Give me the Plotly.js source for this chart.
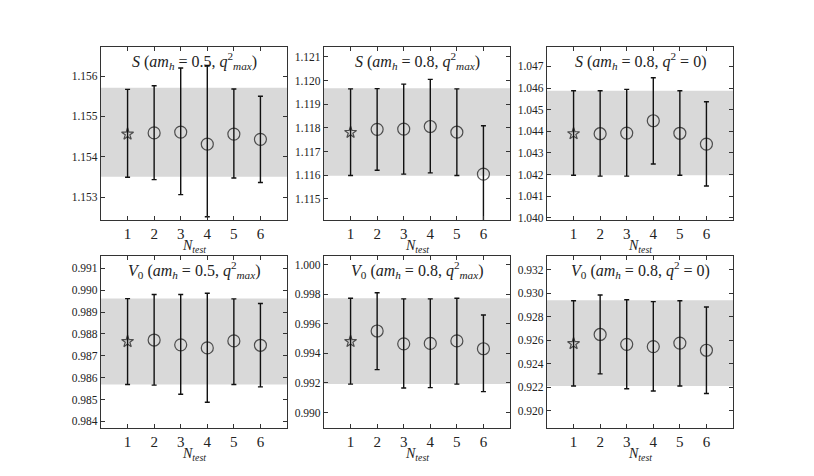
<!DOCTYPE html>
<html>
<head>
<meta charset="utf-8">
<script src="https://cdn.plot.ly/plotly-3.0.1.min.js"></script>
<style>
  html, body { margin: 0; padding: 0; background: #fff; }
  #chart { width: 814px; height: 476px; }
</style>
</head>
<body>
<div id="chart"></div>
<script>
// N_test values on the x axis
const nTest = [1, 2, 3, 4, 5, 6];

// S, am_h = 0.5, q^2_max
const sA05Qmax = [1.15456, 1.15459, 1.15461, 1.15431, 1.15456, 1.15443];
const sA05QmaxUp = [0.00111, 0.00117, 0.00159, 0.00195, 0.00112, 0.00107];
const sA05QmaxDn = [0.00107, 0.00116, 0.00155, 0.00180, 0.00109, 0.00107];
const sA05QmaxBand = [1.15350, 1.15571];

// S, am_h = 0.8, q^2_max
const sA08Qmax = [1.11781, 1.11794, 1.11795, 1.11806, 1.11782, 1.11605];
const sA08QmaxUp = [0.00184, 0.00172, 0.00190, 0.00199, 0.00183, 0.00204];
const sA08QmaxDn = [0.00182, 0.00173, 0.00190, 0.00196, 0.00183, 0.00250];
const sA08QmaxBand = [1.11598, 1.11968];

// S, am_h = 0.8, q^2 = 0
const sA08Q0 = [1.04389, 1.04389, 1.04392, 1.04449, 1.04391, 1.04341];
const sA08Q0Up = [0.00199, 0.00199, 0.00202, 0.00199, 0.00197, 0.00196];
const sA08Q0Dn = [0.00192, 0.00196, 0.00199, 0.00200, 0.00194, 0.00194];
const sA08Q0Band = [1.04197, 1.04588];

// V0, am_h = 0.5, q^2_max
const vA05Qmax = [0.98765, 0.98772, 0.98750, 0.98736, 0.98768, 0.98748];
const vA05QmaxUp = [0.00196, 0.00208, 0.00230, 0.00250, 0.00192, 0.00191];
const vA05QmaxDn = [0.00196, 0.00206, 0.00226, 0.00248, 0.00199, 0.00190];
const vA05QmaxBand = [0.98569, 0.98962];

// V0, am_h = 0.8, q^2_max
const vA08Qmax = [0.99480, 0.99551, 0.99464, 0.99467, 0.99484, 0.99431];
const vA08QmaxUp = [0.00292, 0.00259, 0.00304, 0.00301, 0.00288, 0.00228];
const vA08QmaxDn = [0.00288, 0.00261, 0.00299, 0.00299, 0.00292, 0.00290];
const vA08QmaxBand = [0.99192, 0.99772];

// V0, am_h = 0.8, q^2 = 0
const vA08Q0 = [0.92570, 0.92648, 0.92564, 0.92545, 0.92575, 0.92514];
const vA08Q0Up = [0.00365, 0.00335, 0.00379, 0.00382, 0.00360, 0.00368];
const vA08Q0Dn = [0.00360, 0.00335, 0.00377, 0.00377, 0.00365, 0.00368];
const vA08Q0Band = [0.92210, 0.92938];

const panelTitles = [
    "<i>S</i> (<i>am<sub>h</sub></i> = 0.5, <i>q</i><sup>2</sup><sub><i>max</i></sub>)",
    "<i>S</i> (<i>am<sub>h</sub></i> = 0.8, <i>q</i><sup>2</sup><sub><i>max</i></sub>)",
    "<i>S</i> (<i>am<sub>h</sub></i> = 0.8, <i>q</i><sup>2</sup> = 0)",
    "<i>V</i><sub>0</sub> (<i>am<sub>h</sub></i> = 0.5, <i>q</i><sup>2</sup><sub><i>max</i></sub>)",
    "<i>V</i><sub>0</sub> (<i>am<sub>h</sub></i> = 0.8, <i>q</i><sup>2</sup><sub><i>max</i></sub>)",
    "<i>V</i><sub>0</sub> (<i>am<sub>h</sub></i> = 0.8, <i>q</i><sup>2</sup> = 0)"
];

const panels = [
    { y: sA05Qmax, up: sA05QmaxUp, dn: sA05QmaxDn, band: sA05QmaxBand, range: [1.15243, 1.15672], dtick: 0.001 },
    { y: sA08Qmax, up: sA08QmaxUp, dn: sA08QmaxDn, band: sA08QmaxBand, range: [1.11411, 1.12142], dtick: 0.001 },
    { y: sA08Q0, up: sA08Q0Up, dn: sA08Q0Dn, band: sA08Q0Band, range: [1.03990, 1.04790], dtick: 0.001 },
    { y: vA05Qmax, up: vA05QmaxUp, dn: vA05QmaxDn, band: vA05QmaxBand, range: [0.98370, 0.99156], dtick: 0.001 },
    { y: vA08Qmax, up: vA08QmaxUp, dn: vA08QmaxDn, band: vA08QmaxBand, range: [0.98895, 1.00058], dtick: 0.002 },
    { y: vA08Q0, up: vA08Q0Up, dn: vA08Q0Dn, band: vA08Q0Band, range: [0.91853, 0.93315], dtick: 0.002 }
];

const W = 814, H = 476;
const colsPx = [[101, 287], [324, 510], [547, 733]];
const rowsPx = [[47, 220], [256, 428]];

const serif = "Liberation Serif, DejaVu Serif, serif";
const ink = "#222";

const markerSymbols = nTest.map(n => n === 1 ? "star-open" : "circle-open");
const markerSizes = nTest.map(n => n === 1 ? 9 : 12);

const traces = [];
const layout = {
    width: W, height: H,
    margin: { l: 0, r: 0, t: 0, b: 0 },
    paper_bgcolor: "#fff",
    plot_bgcolor: "rgba(0,0,0,0)",
    showlegend: false,
    font: { family: serif, color: ink },
    shapes: [],
    annotations: []
};

panels.forEach((p, i) => {
    const k = i + 1;
    const xa = "x" + (k === 1 ? "" : k);
    const ya = "y" + (k === 1 ? "" : k);
    const col = colsPx[i % 3], row = rowsPx[Math.floor(i / 3)];

    traces.push({
        x: nTest, y: p.y,
        xaxis: xa, yaxis: ya,
        type: "scatter", mode: "markers",
        marker: { symbol: markerSymbols, size: markerSizes, color: "#111",
                  line: { color: "#111", width: 1.2 } },
        error_y: { type: "data", symmetric: false, array: p.up, arrayminus: p.dn,
                   color: "#111", thickness: 1.4, width: 2.5 },
        cliponaxis: true,
        hoverinfo: "x+y"
    });

    const axCommon = {
        showgrid: false, zeroline: false,
        showline: true, linecolor: "#333", linewidth: 1.2, mirror: "ticks",
        ticks: "inside", ticklen: 4, tickcolor: "#333", tickwidth: 1
    };

    layout["xaxis" + (k === 1 ? "" : k)] = Object.assign({}, axCommon, {
        domain: [col[0] / W, col[1] / W],
        anchor: ya, range: [0, 7],
        tickvals: nTest, ticktext: nTest.map(String),
        tickfont: { family: serif, size: 15, color: ink }
    });
    layout["yaxis" + (k === 1 ? "" : k)] = Object.assign({}, axCommon, {
        domain: [1 - row[1] / H, 1 - row[0] / H],
        anchor: xa, range: p.range,
        dtick: p.dtick, tick0: 0, tickformat: ".3f",
        tickfont: { family: serif, size: 11.5, color: ink }
    });

    layout.shapes.push({
        type: "rect", xref: xa, yref: ya, layer: "below",
        x0: 0, x1: 7, y0: p.band[0], y1: p.band[1],
        fillcolor: "#d9d9d9", line: { width: 0 }
    });

    layout.annotations.push({
        xref: xa + " domain", yref: ya + " domain",
        x: 0.5, y: 1, yshift: -1, xanchor: "center", yanchor: "top",
        text: panelTitles[i], showarrow: false,
        font: { family: serif, size: 16, color: ink }
    });
    layout.annotations.push({
        xref: xa + " domain", yref: ya + " domain",
        x: 0.5, y: 0, yshift: -26, xanchor: "center", yanchor: "middle",
        text: "<i>N</i><sub><i>test</i></sub>", showarrow: false,
        font: { family: serif, size: 14, color: ink }
    });
});

Plotly.newPlot("chart", traces, layout, { staticPlot: true, displayModeBar: false });
</script>
</body>
</html>
